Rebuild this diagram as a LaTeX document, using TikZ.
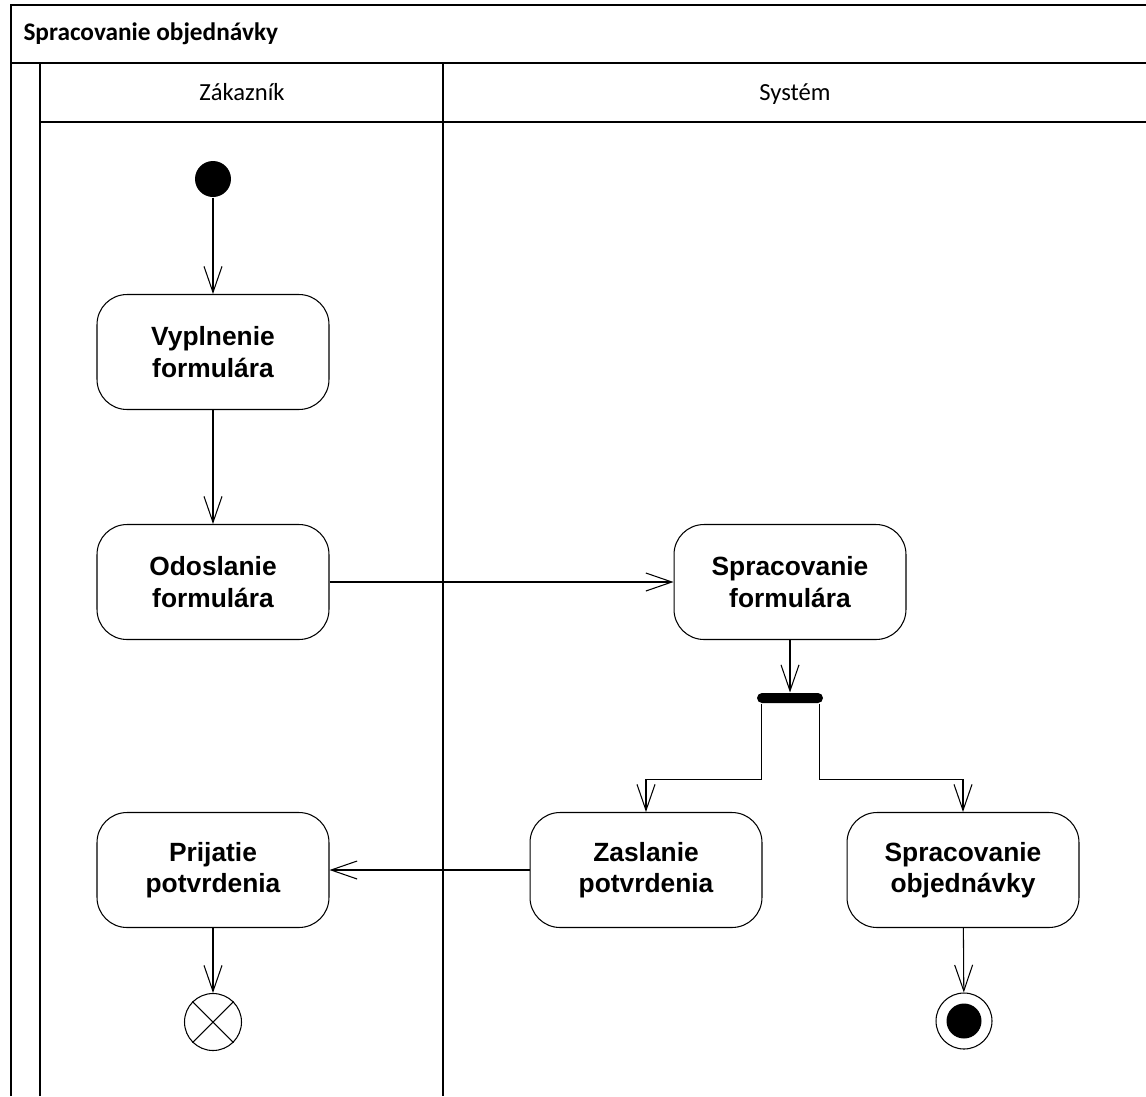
\documentclass[tikz,border=0pt]{standalone}
\usepackage{fontspec}
\setmainfont{Carlito}
\newfontfamily\boxfont{Liberation Sans}
\usetikzlibrary{arrows.meta}

\begin{document}
\begin{tikzpicture}[x=0.02cm,y=-0.02cm,line width=0.6pt,
    act/.style={draw, rounded corners=0.6cm, minimum width=4.64cm, minimum height=2.3cm,
        align=center, font=\boxfont\bfseries\fontsize{15}{18}\selectfont},
    flow/.style={-{Straight Barb[length=0.52cm,width=0.36cm]}},
    lane/.style={anchor=base, font=\fontsize{14}{16}\selectfont}]

        \useasboundingbox (0,0) rectangle (1146,1096);

        % frame and swimlanes
        \draw (11,1096) -- (11,5) -- (1146,5);
        \draw (11,63) -- (1146,63);
        \draw (40,1096) -- (40,63);
        \draw (40,122) -- (1146,122);
        \draw (443,63) -- (443,1096);

        \node[anchor=base west, inner sep=0, font=\bfseries\fontsize{14.4}{16}\selectfont] (t) at (23,40) {Spracovanie objednávky};
        \node[lane] (z) at (242,100) {Zákazník};
        \node[lane] (s) at (795,100) {Systém};

        \node[circle, fill, minimum size=0.72cm, inner sep=0] (a) at (213,179) {};
        \node[act] (b) at (213,352) {Vyplnenie\\formulára};
        \node[act] (c) at (213,582) {Odoslanie\\formulára};
        \node[act] (d) at (790,582) {Spracovanie\\formulára};
        \node[fill, rounded corners=0.1cm, minimum width=1.32cm, minimum height=0.2cm, inner sep=0] (e) at (790,698) {};
        \node[act] (f) at (646,870) {Zaslanie\\potvrdenia};
        \node[act] (g) at (963,870) {Spracovanie\\objednávky};
        \node[act] (h) at (213,870) {Prijatie\\potvrdenia};
        \node[circle, draw, minimum size=1.14cm, inner sep=0] (i) at (213,1022) {};
        \node[circle, draw, minimum size=1.12cm, inner sep=0] (j) at (964,1021) {};

        \draw (i.45) -- (i.225) (i.135) -- (i.315);
        \fill (j.center) circle[radius=0.35cm];

        \draw[flow] (a) to (b);
        \draw[flow] (b) to (c);
        \draw[flow] (c) to (d);
        \draw[flow] (d) to (e);
        \draw[flow] ([xshift=0.1cm]e.south west) -- ++(0,76) -| (f);
        \draw[flow] ([xshift=-0.08cm]e.south east) -- ++(0,76) -| (g);
        \draw[flow] (f) to (h);
        \draw[flow] (h) to (i);
        \draw[flow] (g) to (j);
    \end{tikzpicture}
\end{document}
